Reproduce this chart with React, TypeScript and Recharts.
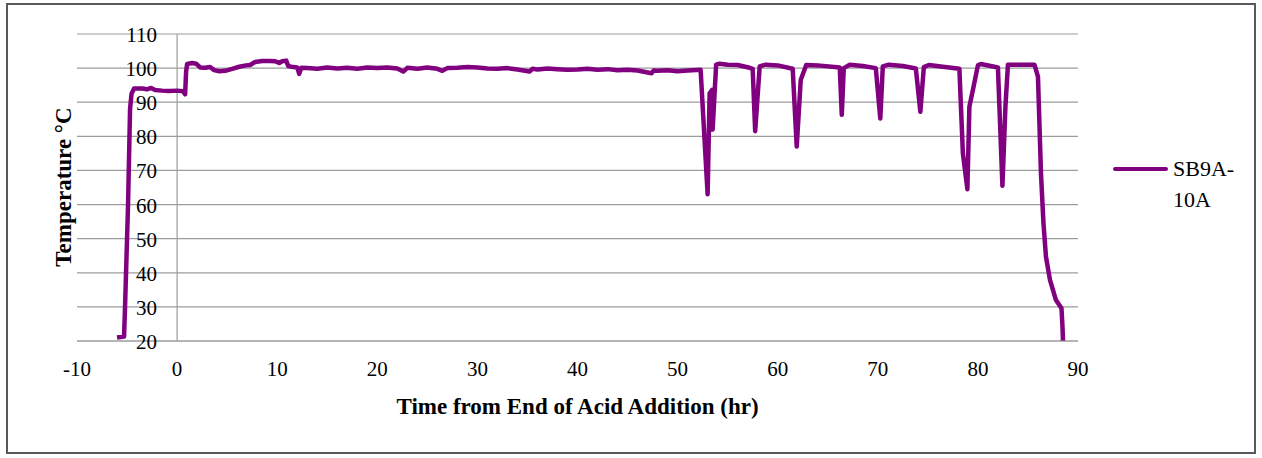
import React from 'react';
import { LineChart, Line, CartesianGrid, XAxis, YAxis, ReferenceLine } from 'recharts';

// hours from end of acid addition
const timeHr = [
  -6.0, -5.3, -5.2, -4.9, -4.7, -4.55, -4.3, -3.5, -3.0, -2.6, -2.2, -1.5, -0.8, 0.0, 0.6, 0.8, 0.9, 1.0,
  1.5, 1.9, 2.3, 2.8, 3.3, 3.7, 4.2, 4.8, 5.5, 6.2, 6.9, 7.3, 7.8, 8.5, 9.3, 9.8, 10.2, 10.5, 10.9, 11.1,
  11.6, 12.0, 12.2, 12.4, 13, 14, 15, 16, 17, 18, 19, 20, 21, 22, 22.6, 23, 24, 25, 26, 26.5, 27, 28, 29,
  30, 31, 32, 33, 34, 35.2, 35.5, 36, 37, 38, 39, 40, 41, 42, 43, 44, 45, 46, 47.4, 47.6, 48, 49, 50, 51,
  52.3, 53.0, 53.2, 53.45, 53.5, 53.85, 54.2, 55, 56, 57.2, 57.5, 57.75, 58.2, 58.8, 60, 61.5, 61.9, 62.3,
  62.85, 64, 66.2, 66.4, 66.6, 67.2, 68.5, 69.8, 70.25, 70.5, 71.1, 72.5, 73.8, 74.25, 74.6, 75.1, 76.5,
  78.15, 78.5, 78.95, 79.15, 79.5, 80.0, 80.3, 82.0, 82.45, 82.75, 83.0, 84, 85.65, 86.0, 86.3, 86.55,
  86.8, 87.2, 87.8, 88.35, 88.45, 88.5,
];

const tempC = [
  21, 21.3, 30, 60, 88, 92.5, 94, 94, 93.8, 94.2, 93.6, 93.4, 93.3, 93.4, 93.2, 92.3, 99, 101.2,
  101.5, 101.3, 100.2, 100.1, 100.3, 99.4, 99.1, 99.2, 99.8, 100.4, 100.8, 100.9, 101.8, 102.1, 102.1, 102.0, 101.5, 102.0, 102.2, 100.6,
  100.3, 100.2, 98.3, 100.1, 100.0, 99.8, 100.2, 99.9, 100.1, 99.8, 100.2, 100.0, 100.2, 99.9, 99.0, 100.1, 99.8, 100.2, 99.8, 99.2, 100.0, 100.1, 100.3,
  100.2, 99.9, 99.8, 100.0, 99.6, 99.0, 99.8, 99.6, 99.9, 99.7, 99.5, 99.6, 99.8, 99.5, 99.7, 99.4, 99.5, 99.3, 98.5, 99.3, 99.2, 99.4, 99.1, 99.3,
  99.5, 63, 92.6, 93.6, 82, 101, 101.3, 101.0, 100.9, 100.1, 99.8, 81.5, 100.5, 101.0, 100.8, 99.8, 77, 96.5,
  100.9, 100.8, 100.2, 86.3, 100, 101, 100.6, 100, 85.2, 100.5, 101, 100.6, 99.9, 87.2, 100.3, 100.9, 100.4,
  99.8, 75, 64.5, 88.7, 93.6, 100.8, 101.2, 100.2, 65.5, 88.7, 101, 101, 101, 97.5, 69.2, 54.5,
  44.7, 37.9, 32, 29.6, 24.2, 20,
];

const xTicks = [-10, 0, 10, 20, 30, 40, 50, 60, 70, 80, 90];
const yTicks = [20, 30, 40, 50, 60, 70, 80, 90, 100, 110];
const seriesName = 'SB9A-10A';

const chartData = timeHr.map((t, i) => ({ t, temp: tempC[i] }));

const FONT = '"Liberation Serif", "Times New Roman", serif';
const PURPLE = '#800080';
const GRID = '#9c9c9c';

const XTick = (props: any) => {
  const { x, y, payload } = props;
  return (
    <text x={x} y={y + 35} textAnchor="middle" fontFamily={FONT} fontSize={21} fill="#000">
      {payload.value}
    </text>
  );
};

// Excel puts the value axis on x = 0, so labels sit next to that line
const YTick = (props: any) => {
  const { y, payload } = props;
  return (
    <text x={157} y={y + 1} textAnchor="end" dominantBaseline="central" fontFamily={FONT} fontSize={21} fill="#000">
      {payload.value}
    </text>
  );
};

export default function App() {
  return (
    <div style={{ position: 'absolute', left: 0, top: 0, width: 1262, height: 458, background: '#fff' }}>
      <div
        style={{
          position: 'absolute', left: 6, top: 3, width: 1250, height: 451,
          border: '2px solid #595959', boxSizing: 'border-box',
        }}
      />
      <LineChart
        width={1262}
        height={458}
        data={chartData}
        margin={{ top: 34, right: 184, bottom: 37, left: 0 }}
        style={{ position: 'absolute', left: 0, top: 0 }}
      >
        <CartesianGrid vertical={false} stroke={GRID} strokeWidth={1.2} />
        <XAxis
          dataKey="t"
          type="number"
          domain={[-10, 90]}
          ticks={xTicks}
          height={80}
          tickLine={false}
          tickSize={0}
          tickMargin={0}
          axisLine={{ stroke: GRID, strokeWidth: 1.2 }}
          tick={<XTick />}
          interval={0}
          label={({ viewBox }: any) => (
            <text
              x={viewBox.x + viewBox.width / 2}
              y={viewBox.y + 73}
              textAnchor="middle"
              fontFamily={FONT}
              fontSize={23}
              fontWeight="bold"
              fill="#000"
            >
              Time from End of Acid Addition (hr)
            </text>
          )}
        />
        <YAxis
          type="number"
          domain={[20, 110]}
          ticks={yTicks}
          width={77}
          axisLine={false}
          tickLine={false}
          tick={<YTick />}
          interval={0}
        />
        <ReferenceLine x={0} stroke={GRID} strokeWidth={1.2} />
        <Line
          type="linear"
          dataKey="temp"
          name={seriesName}
          stroke={PURPLE}
          strokeWidth={4.5}
          strokeLinejoin="round"
          dot={false}
          isAnimationActive={false}
        />
      </LineChart>
      <svg width={1262} height={458} style={{ position: 'absolute', left: 0, top: 0, pointerEvents: 'none' }}>
        <text
          x={63}
          y={187}
          transform="rotate(-90 63 187)"
          textAnchor="middle"
          dominantBaseline="central"
          fontFamily={FONT}
          fontSize={23}
          fontWeight="bold"
          fill="#000"
        >
          Temperature °C
        </text>
      </svg>
      <div style={{ position: 'absolute', left: 1113, top: 167, width: 55, height: 4, background: PURPLE, borderRadius: 2 }} />
      <div
        style={{
          position: 'absolute', left: 1173, top: 153, width: 80,
          fontFamily: FONT, fontSize: 22, lineHeight: '31px', color: '#000',
        }}
      >
        SB9A-<br />10A
      </div>
    </div>
  );
}
